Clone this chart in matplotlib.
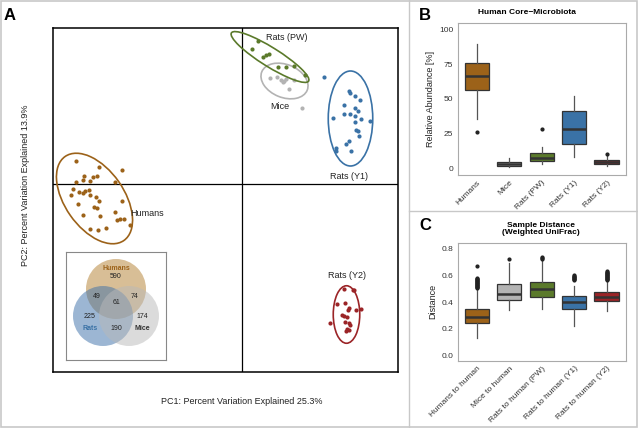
import numpy as np
import matplotlib.pyplot as plt
from matplotlib.patches import Ellipse, Circle, Rectangle
from matplotlib.lines import Line2D

plt.rcParams['font.family'] = ['Liberation Sans', 'DejaVu Sans']

# group colours
colours = {'Humans': '#9c6219', 'Mice': '#b3b3b3', 'Rats (PW)': '#5b7a2b',
           'Rats (Y1)': '#3a72a6', 'Rats (Y2)': '#9b2427'}

# ---- panel A: PCoA scores ----
humans_pc1 = [-0.333, -0.287, -0.240, -0.316, -0.299, -0.291, -0.304, -0.319, -0.333, -0.254,
              -0.339, -0.327, -0.315, -0.306, -0.342, -0.319, -0.304, -0.293, -0.329, -0.287,
              -0.241, -0.297, -0.291, -0.255, -0.319, -0.285, -0.251, -0.244, -0.236, -0.224,
              -0.304, -0.289, -0.273]
humans_pc2 = [0.046, 0.033, 0.027, 0.016, 0.013, 0.015, 0.005, 0.008, 0.004, 0.004,
              -0.011, -0.017, -0.014, -0.013, -0.022, -0.019, -0.023, -0.026, -0.040, -0.035,
              -0.035, -0.047, -0.049, -0.057, -0.063, -0.065, -0.072, -0.071, -0.071, -0.083,
              -0.090, -0.092, -0.089]
mice_pc1 = [0.056, 0.069, 0.078, 0.083, 0.087, 0.081, 0.093, 0.103, 0.119]
mice_pc2 = [0.211, 0.213, 0.208, 0.205, 0.209, 0.203, 0.189, 0.208, 0.152]
pw_pc1 = [0.031, 0.019, 0.041, 0.047, 0.053, 0.071, 0.088, 0.103, 0.126]
pw_pc2 = [0.285, 0.270, 0.253, 0.258, 0.259, 0.234, 0.234, 0.235, 0.218]
y1_pc1 = [0.163, 0.213, 0.215, 0.226, 0.236, 0.203, 0.225, 0.231, 0.181, 0.204, 0.216, 0.226,
          0.237, 0.255, 0.225, 0.228, 0.231, 0.233, 0.213, 0.208, 0.187, 0.188, 0.217]
y1_pc2 = [0.213, 0.185, 0.181, 0.175, 0.167, 0.158, 0.151, 0.145, 0.132, 0.139, 0.139, 0.136,
          0.130, 0.125, 0.123, 0.108, 0.106, 0.095, 0.085, 0.080, 0.071, 0.065, 0.065]
y2_pc1 = [0.203, 0.221, 0.224, 0.189, 0.205, 0.214, 0.211, 0.228, 0.238, 0.199, 0.203, 0.209,
          0.175, 0.206, 0.213, 0.216, 0.209, 0.213, 0.208]
y2_pc2 = [-0.209, -0.211, -0.212, -0.239, -0.237, -0.247, -0.252, -0.252, -0.250, -0.262, -0.264,
          -0.265, -0.277, -0.275, -0.277, -0.282, -0.289, -0.292, -0.294]

# ellipses: centre x, centre y, width, height, angle
ell_humans = [-0.295, -0.029, 0.205, 0.118, -55]
ell_mice = [0.085, 0.206, 0.098, 0.066, -22]
ell_pw = [0.056, 0.254, 0.182, 0.038, -32]
ell_y1 = [0.217, 0.131, 0.089, 0.190, 0]
ell_y2 = [0.209, -0.261, 0.053, 0.115, 0]

# group label positions (PCoA units)
label_names = ['Rats (PW)', 'Mice', 'Rats (Y1)', 'Humans', 'Rats (Y2)']
label_pc1 = [0.090, 0.076, 0.214, -0.19, 0.210]
label_pc2 = [0.292, 0.154, 0.014, -0.060, -0.182]

# venn counts
venn_labels = ['590', '49', '61', '74', '225', '174', '190']

# ---- panel B: human core microbiota (%) ----
b_groups = ['Humans', 'Mice', 'Rats (PW)', 'Rats (Y1)', 'Rats (Y2)']
b_whislo = [35.2, 1.2, 2.9, 8.3, 1.6]
b_q1 = [56.3, 1.9, 5.3, 17.5, 3.1]
b_med = [66.6, 3.3, 7.6, 28.3, 4.5]
b_q3 = [75.5, 4.7, 10.8, 41.4, 6.0]
b_whishi = [89.4, 7.6, 15.1, 52.2, 9.6]
b_fliers = [[26.1], [], [28.5], [], [10.1]]

# ---- panel C: weighted UniFrac distance to humans ----
c_groups = ['Humans to human', 'Mice to human', 'Rats to human (PW)',
            'Rats to human (Y1)', 'Rats to human (Y2)']
c_whislo = [0.128, 0.34, 0.347, 0.222, 0.333]
c_q1 = [0.24, 0.415, 0.44, 0.345, 0.41]
c_med = [0.29, 0.46, 0.50, 0.40, 0.435]
c_q3 = [0.35, 0.535, 0.552, 0.445, 0.477]
c_whishi = [0.50, 0.69, 0.71, 0.52, 0.55]
c_fliers = [[0.505, 0.51, 0.515, 0.52, 0.525, 0.53, 0.535, 0.54, 0.545, 0.55, 0.555, 0.56,
             0.565, 0.57, 0.575, 0.58, 0.672],
            [0.72],
            [0.722, 0.728, 0.735],
            [0.565, 0.57, 0.575, 0.58, 0.585, 0.59, 0.595, 0.60],
            [0.565, 0.57, 0.575, 0.58, 0.585, 0.59, 0.595, 0.60, 0.605, 0.61, 0.615, 0.62,
             0.625, 0.63]]


def draw_boxes(ax, groups, whislo, q1, med, q3, whishi, fliers):
    stats = []
    for i in range(len(groups)):
        stats.append({'whislo': whislo[i], 'q1': q1[i], 'med': med[i], 'q3': q3[i],
                      'whishi': whishi[i], 'fliers': fliers[i]})
    bp = ax.bxp(stats, positions=range(1, len(groups) + 1), widths=0.75, patch_artist=True,
                showcaps=False,
                boxprops=dict(edgecolor='#333333', linewidth=0.9),
                medianprops=dict(color='#333333', linewidth=1.8),
                whiskerprops=dict(color='#555555', linewidth=0.9),
                flierprops=dict(marker='o', markersize=2, markerfacecolor='#222222',
                                markeredgecolor='#222222'))
    for patch, g in zip(bp['boxes'], b_groups):
        patch.set_facecolor(colours[g])
    ax.set_xlim(0.4, len(groups) + 0.6)
    ax.set_xticks(range(1, len(groups) + 1))
    ax.set_xticklabels(groups, rotation=45, ha='right', rotation_mode='anchor',
                       fontsize=6, color='#333333')
    ax.tick_params(length=0, pad=3, labelsize=6, labelcolor='#333333')
    for s in ax.spines.values():
        s.set_color('#aaaaaa')
        s.set_linewidth(0.8)


fig = plt.figure(figsize=(6.38, 4.28), dpi=100)

# frame and separators
fig.add_artist(Rectangle((0.001, 0.002), 0.997, 0.996, transform=fig.transFigure,
                         fill=False, edgecolor='#c8c8c8', linewidth=1.2))
fig.add_artist(Line2D([409 / 638, 409 / 638], [0, 1], transform=fig.transFigure,
                      color='#c8c8c8', linewidth=1))
fig.add_artist(Line2D([409 / 638, 1], [1 - 211 / 428, 1 - 211 / 428], transform=fig.transFigure,
                      color='#c8c8c8', linewidth=1))

# ---- panel A ----
axA = fig.add_axes([53 / 638, 56 / 428, 345 / 638, 344 / 428])
axA.set_xlim(-0.378, 0.312)
axA.set_ylim(-0.376, 0.312)
axA.axhline(0, color='black', linewidth=0.9)
axA.axvline(0, color='black', linewidth=0.9)
groups_A = [('Humans', humans_pc1, humans_pc2, ell_humans),
            ('Mice', mice_pc1, mice_pc2, ell_mice),
            ('Rats (PW)', pw_pc1, pw_pc2, ell_pw),
            ('Rats (Y1)', y1_pc1, y1_pc2, ell_y1),
            ('Rats (Y2)', y2_pc1, y2_pc2, ell_y2)]
for name, xs, ys, ell in groups_A:
    axA.scatter(xs, ys, s=9, color=colours[name], linewidths=0, zorder=3)
    axA.add_patch(Ellipse((ell[0], ell[1]), ell[2], ell[3], angle=ell[4], fill=False,
                          edgecolor=colours[name], linewidth=1.2, zorder=3))
for name, x, y in zip(label_names, label_pc1, label_pc2):
    axA.text(x, y, name, fontsize=6.5, ha='center', va='center', color='#222222')
axA.set_xticks([])
axA.set_yticks([])
for s in axA.spines.values():
    s.set_linewidth(1.1)
fig.text(242 / 638, 1 - 401 / 428, 'PC1: Percent Variation Explained 25.3%', fontsize=6.5,
         ha='center', va='center', color='#222222')
fig.text(25 / 638, 1 - 185 / 428, 'PC2: Percent Variation Explained 13.9%', fontsize=6.5,
         ha='center', va='center', rotation=90, color='#222222')
fig.text(10 / 638, 1 - 16 / 428, 'A', fontsize=12, fontweight='bold', ha='center', va='center')

# venn inset
axV = fig.add_axes([66 / 638, 68 / 428, 100 / 638, 108 / 428])
axV.set_xlim(0, 100)
axV.set_ylim(0, 108)
axV.set_xticks([])
axV.set_yticks([])
for s in axV.spines.values():
    s.set_color('#888888')
    s.set_linewidth(0.8)
axV.add_patch(Circle((50, 71), 30, facecolor='#b37f2f', alpha=0.5, linewidth=0))
axV.add_patch(Circle((37, 44), 30, facecolor='#3b6fa9', alpha=0.5, linewidth=0))
axV.add_patch(Circle((63, 44), 30, facecolor='#b9b9b9', alpha=0.5, linewidth=0))
venn_x = [50, 31, 50, 69, 24, 76, 50]
venn_y = [84, 64, 57, 64, 44, 44, 31]
for t, x, y in zip(venn_labels, venn_x, venn_y):
    axV.text(x, y, t, fontsize=5, ha='center', va='center', color='#222222')
axV.text(50, 91, 'Humans', fontsize=5, ha='center', va='center', color='#9c6219', fontweight='bold')
axV.text(24, 31, 'Rats', fontsize=5, ha='center', va='center', color='#3a72a6', fontweight='bold')
axV.text(76, 31, 'Mice', fontsize=5, ha='center', va='center', color='#333333', fontweight='bold')

# ---- panel B ----
axB = fig.add_axes([457.5 / 638, 253 / 428, 168.5 / 638, 152 / 428])
draw_boxes(axB, b_groups, b_whislo, b_q1, b_med, b_q3, b_whishi, b_fliers)
axB.set_ylim(-4.8, 104.5)
axB.set_yticks([0, 25, 50, 75, 100])
axB.set_ylabel('Relative Abundance [%]', fontsize=6.5, color='#222222', labelpad=3)
fig.text(527 / 638, 1 - 13 / 428, 'Human Core\u2212Microbiota', fontsize=6, fontweight='bold',
         ha='center', va='center')
fig.text(425 / 638, 1 - 15 / 428, 'B', fontsize=12, fontweight='bold', ha='center', va='center')

# ---- panel C ----
axC = fig.add_axes([457.5 / 638, 67.3 / 428, 168.5 / 638, 118 / 428])
draw_boxes(axC, c_groups, c_whislo, c_q1, c_med, c_q3, c_whishi, c_fliers)
axC.set_ylim(-0.04, 0.845)
axC.set_yticks([0.0, 0.2, 0.4, 0.6, 0.8])
axC.set_yticklabels(['0.0', '0.2', '0.4', '0.6', '0.8'])
axC.set_ylabel('Distance', fontsize=6.5, color='#222222', labelpad=3)
fig.text(541 / 638, 1 - 229 / 428, 'Sample Distance\n(Weighted UniFrac)', fontsize=6,
         fontweight='bold', ha='center', va='center', linespacing=1.1)
fig.text(425 / 638, 1 - 225 / 428, 'C', fontsize=12, fontweight='bold', ha='center', va='center')

fig.savefig('out.png', dpi=100)
